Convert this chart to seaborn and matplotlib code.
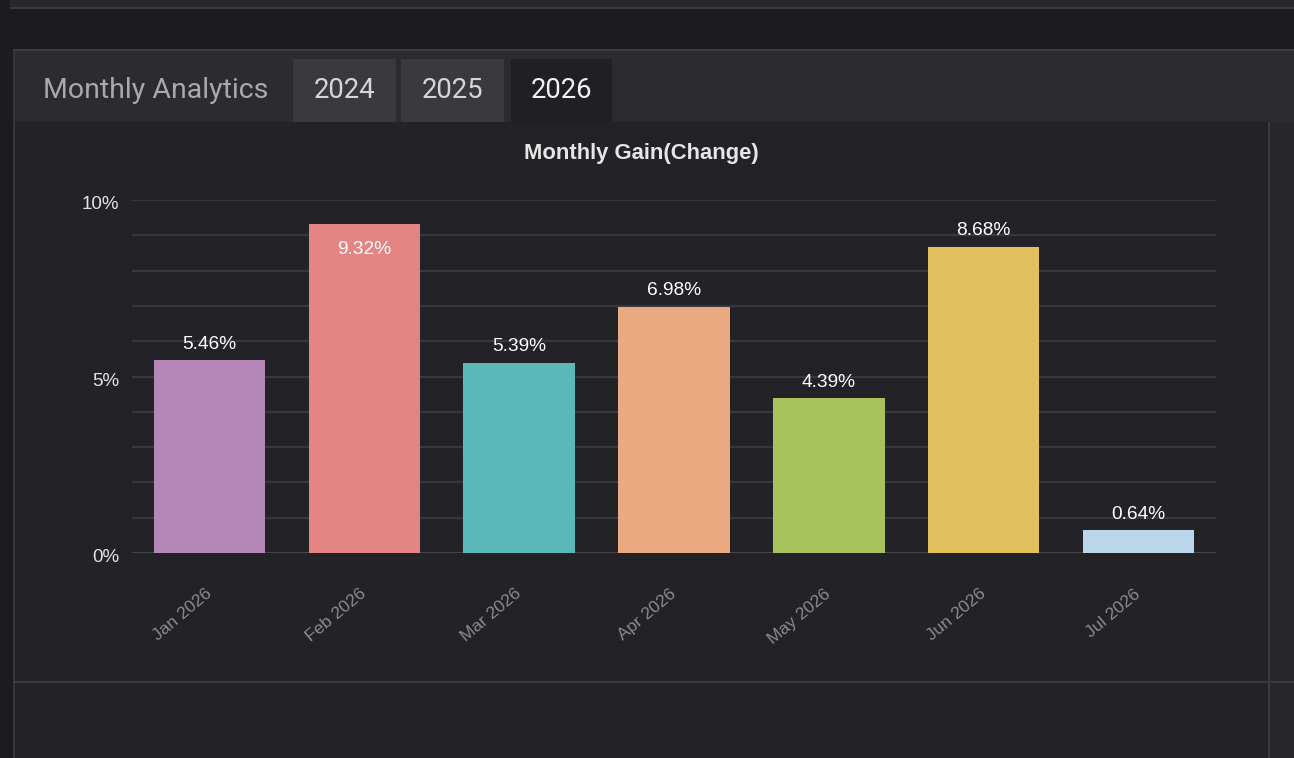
import matplotlib
matplotlib.use('Agg')
import matplotlib.pyplot as plt
from matplotlib.patches import Rectangle
from matplotlib.transforms import ScaledTranslation
import seaborn as sns
import pandas as pd

# chart data
months = ['Jan 2026', 'Feb 2026', 'Mar 2026', 'Apr 2026', 'May 2026', 'Jun 2026', 'Jul 2026']
gains = [5.46, 9.32, 5.39, 6.98, 4.39, 8.68, 0.64]
bar_colors = ['#b587b8', '#e38585', '#5bb8b8', '#eaa981', '#a8c35b', '#e3c05e', '#b9d6ea']
y_ticks = [0, 5, 10]
year_tabs = ['2024', '2025', '2026']
active_tab = '2026'

W, H = 1294, 758


def box(fig, x0, y0, x1, y1, color):
    # pixel coords, origin top-left
    fig.add_artist(Rectangle((x0 / W, 1 - y1 / H), (x1 - x0) / W, (y1 - y0) / H,
                             transform=fig.transFigure, facecolor=color,
                             edgecolor='none', zorder=-10))


def label(fig, x, y, s, **kw):
    fig.text(x / W, 1 - y / H, s, **kw)


sns.set_theme(style='dark')
plt.rcParams['font.family'] = ['Liberation Sans', 'DejaVu Sans']

fig = plt.figure(figsize=(W / 100, H / 100), dpi=100, facecolor='#1c1b20')

# page panels
box(fig, 10, 0, W, 7, '#29282d')
box(fig, 10, 7, W, 9, '#3b3a3f')
box(fig, 13, 49, W, 51, '#3d3c42')
box(fig, 14, 51, W, 122, '#2c2b30')
box(fig, 14, 122, W, H, '#232227')
box(fig, 13, 51, 15, H, '#37363b')
box(fig, 1270, 122, W, H, '#27262b')
box(fig, 1268, 122, 1270, H, '#3c3b40')
box(fig, 14, 681, W, 683, '#3c3b40')

# header tabs
label(fig, 43, 91, 'Monthly Analytics', family=['Roboto', 'DejaVu Sans'], fontsize=20.5,
      color='#a9a9a9', ha='left', va='center')
tab_x = [(293, 396), (401, 504), (511, 612)]
for (x0, x1), yr in zip(tab_x, year_tabs):
    on = yr == active_tab
    box(fig, x0, 59, x1, 122, '#201f24' if on else '#3a393e')
    label(fig, (x0 + x1) / 2, 91, yr, family=['Roboto', 'DejaVu Sans'], fontsize=19.8,
          color='#f2f2f2' if on else '#d6d6d6', ha='center', va='center')

# chart
label(fig, 641, 153, 'Monthly Gain(Change)', fontsize=15.8, fontweight='bold',
      color='#e6e6e6', ha='center', va='center')

ax = fig.add_axes([132 / W, (H - 553) / H, 1084 / W, 353 / H])
ax.set_facecolor('none')
df = pd.DataFrame({'month': months, 'gain': gains})
sns.barplot(data=df, x='month', y='gain', hue='month', palette=bar_colors, legend=False,
            width=0.72, saturation=1, linewidth=0, edgecolor='none', ax=ax, zorder=3)

ax.set_xlim(-0.5, len(months) - 0.5)
ax.set_ylim(0, 10)
ax.set_yticks(y_ticks)
ax.set_yticklabels([f'{t}%' for t in y_ticks])
ax.set_yticks(range(0, 11), minor=True)
ax.grid(axis='y', which='both', color='#38373d', lw=1.6)
ax.grid(axis='x', visible=False)
ax.set_axisbelow(True)
ax.axhline(0, color='#48474d', lw=2, zorder=2)
for s in ax.spines.values():
    s.set_visible(False)
ax.set_xlabel('')
ax.set_ylabel('')

ax.tick_params(axis='y', which='both', length=0, pad=9, labelsize=13.5, labelcolor='#e2e2e2')
ax.tick_params(axis='x', length=0, pad=28, labelsize=12.5, labelcolor='#8c8c8c')
plt.setp(ax.get_xticklabels(), rotation=40, ha='right', va='center', rotation_mode='anchor')
shift = ScaledTranslation(0, -2.5 / 100, fig.dpi_scale_trans)
for t in ax.get_yticklabels():
    t.set_transform(t.get_transform() + shift)

top = ax.get_ylim()[1]
for i, v in enumerate(gains):
    inside = v + 0.75 > top
    ax.annotate(f'{v:.2f}%', (i, v), xytext=(0, -25 if inside else 16),
                textcoords='offset pixels', ha='center', va='center',
                color='white', fontsize=13.8, zorder=5)

fig.savefig('out.png', dpi=100, facecolor=fig.get_facecolor())
